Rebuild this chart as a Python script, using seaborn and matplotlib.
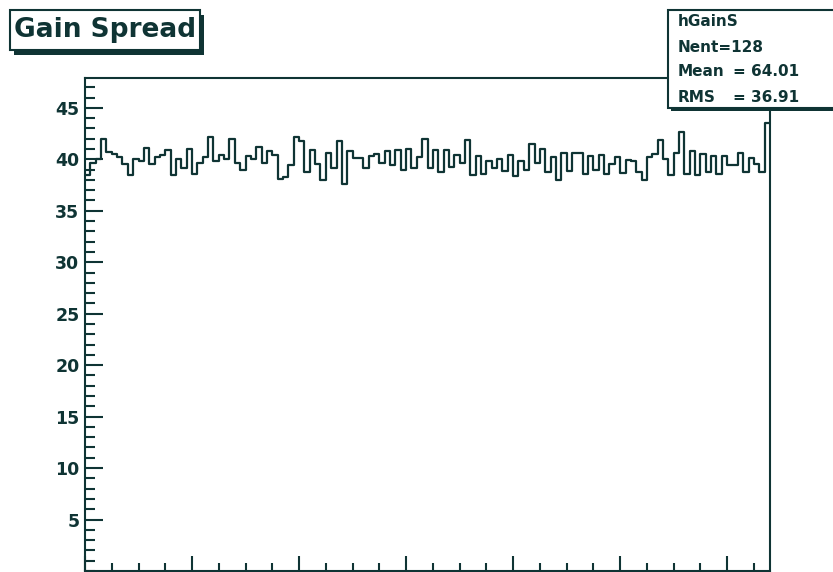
import matplotlib
matplotlib.use('Agg')
import matplotlib.pyplot as plt
import numpy as np
import seaborn as sns
from matplotlib.patches import Rectangle
from matplotlib.ticker import MultipleLocator, FixedLocator

# bin contents of hGainS, 128 channels
GAIN = [
    38.5, 39.6, 40.0, 42.0, 40.7, 40.5, 40.2, 39.5, 38.5, 40.0, 39.8, 41.1, 39.5, 40.2, 40.4, 40.9,
    38.5, 40.0, 39.2, 41.0, 38.6, 39.6, 40.2, 42.2, 39.8, 40.4, 40.0, 42.0, 39.6, 39.0, 40.3, 40.0,
    41.2, 39.6, 40.8, 40.4, 38.1, 38.3, 39.4, 42.2, 41.8, 38.8, 40.9, 39.5, 38.0, 40.6, 39.2, 41.8,
    37.6, 40.8, 40.1, 40.1, 39.2, 40.3, 40.5, 39.6, 40.8, 39.4, 40.9, 39.0, 41.0, 39.2, 40.2, 42.0,
    39.2, 40.9, 38.8, 40.9, 39.3, 40.4, 39.6, 41.9, 38.5, 40.3, 38.6, 39.8, 39.2, 40.0, 38.9, 40.4,
    38.4, 39.8, 39.0, 41.5, 39.6, 41.0, 38.8, 40.2, 38.0, 40.6, 38.9, 40.6, 40.6, 38.6, 40.3, 39.0,
    40.4, 38.6, 39.5, 40.2, 38.7, 39.9, 39.8, 38.8, 38.0, 40.2, 40.5, 41.9, 40.0, 38.5, 40.6, 42.7,
    38.6, 40.8, 38.5, 40.5, 38.8, 40.3, 38.6, 40.3, 39.4, 39.4, 40.6, 38.8, 40.1, 39.5, 38.8, 43.5,
]
STATS_NAME = "hGainS"
STATS_NENT = "128"
STATS_MEAN = "64.01"
STATS_RMS = "36.91"
TITLE = "Gain Spread"

INK = "#0f3434"

channels = np.arange(len(GAIN)) + 0.5

plt.rcParams['font.family'] = ['DejaVu Sans']
fig = plt.figure(figsize=(8.33, 5.72), dpi=100)
W, H = 833, 572
ax = fig.add_axes([85 / W, 1 / H, 685 / W, 493 / H])

sns.histplot(x=channels, weights=GAIN, bins=128, binrange=(0, 128), element="step",
             fill=False, color=INK, linewidth=1.6, ax=ax)

ax.set_xlim(0, 128)
ax.set_ylim(0, 47.9)
ax.set_xlabel("")
ax.set_ylabel("")
ax.xaxis.set_major_locator(MultipleLocator(20))
ax.xaxis.set_minor_locator(MultipleLocator(5))
ax.yaxis.set_major_locator(FixedLocator([5, 10, 15, 20, 25, 30, 35, 40, 45]))
ax.yaxis.set_minor_locator(MultipleLocator(1))
ax.tick_params(axis="both", which="both", direction="in", color=INK, width=1.5)
ax.tick_params(axis="y", which="major", length=13, labelsize=12.5, labelcolor=INK, pad=4)
ax.tick_params(axis="y", which="minor", length=7)
ax.tick_params(axis="x", which="major", length=11, labelbottom=False)
ax.tick_params(axis="x", which="minor", length=6)
for lbl in ax.get_yticklabels():
    lbl.set_fontweight("bold")
for sp in ax.spines.values():
    sp.set_color(INK)
    sp.set_linewidth(1.5)

# title box with shadow
fig.patches.append(Rectangle((14 / W, 1 - 55 / H), 190 / W, 40 / H, transform=fig.transFigure,
                             facecolor=INK, edgecolor=INK, lw=0))
fig.patches.append(Rectangle((10 / W, 1 - 50 / H), 190 / W, 40 / H, transform=fig.transFigure,
                             facecolor="white", edgecolor=INK, lw=1.5))
fig.text(14 / W, 1 - 30 / H, TITLE, fontsize=19, fontweight="bold", color=INK, va="center", ha="left")

# stats box
fig.patches.append(Rectangle((671 / W, 1 - 111 / H), 180 / W, 100 / H, transform=fig.transFigure,
                             facecolor=INK, edgecolor=INK, lw=0, zorder=5))
fig.patches.append(Rectangle((668 / W, 1 - 108 / H), 180 / W, 98 / H, transform=fig.transFigure,
                             facecolor="white", edgecolor=INK, lw=1.5, zorder=6))
kw = dict(fontsize=11, fontweight="bold", color=INK, va="center", ha="left", zorder=7)
fig.text(678 / W, 1 - 22 / H, STATS_NAME, **kw)
fig.text(678 / W, 1 - 47 / H, "Nent=" + STATS_NENT, **kw)
fig.text(678 / W, 1 - 72 / H, "Mean", **kw)
fig.text(733 / W, 1 - 72 / H, "= " + STATS_MEAN, **kw)
fig.text(678 / W, 1 - 97 / H, "RMS", **kw)
fig.text(733 / W, 1 - 97 / H, "= " + STATS_RMS, **kw)

fig.savefig("out.png", dpi=100, facecolor="white")
